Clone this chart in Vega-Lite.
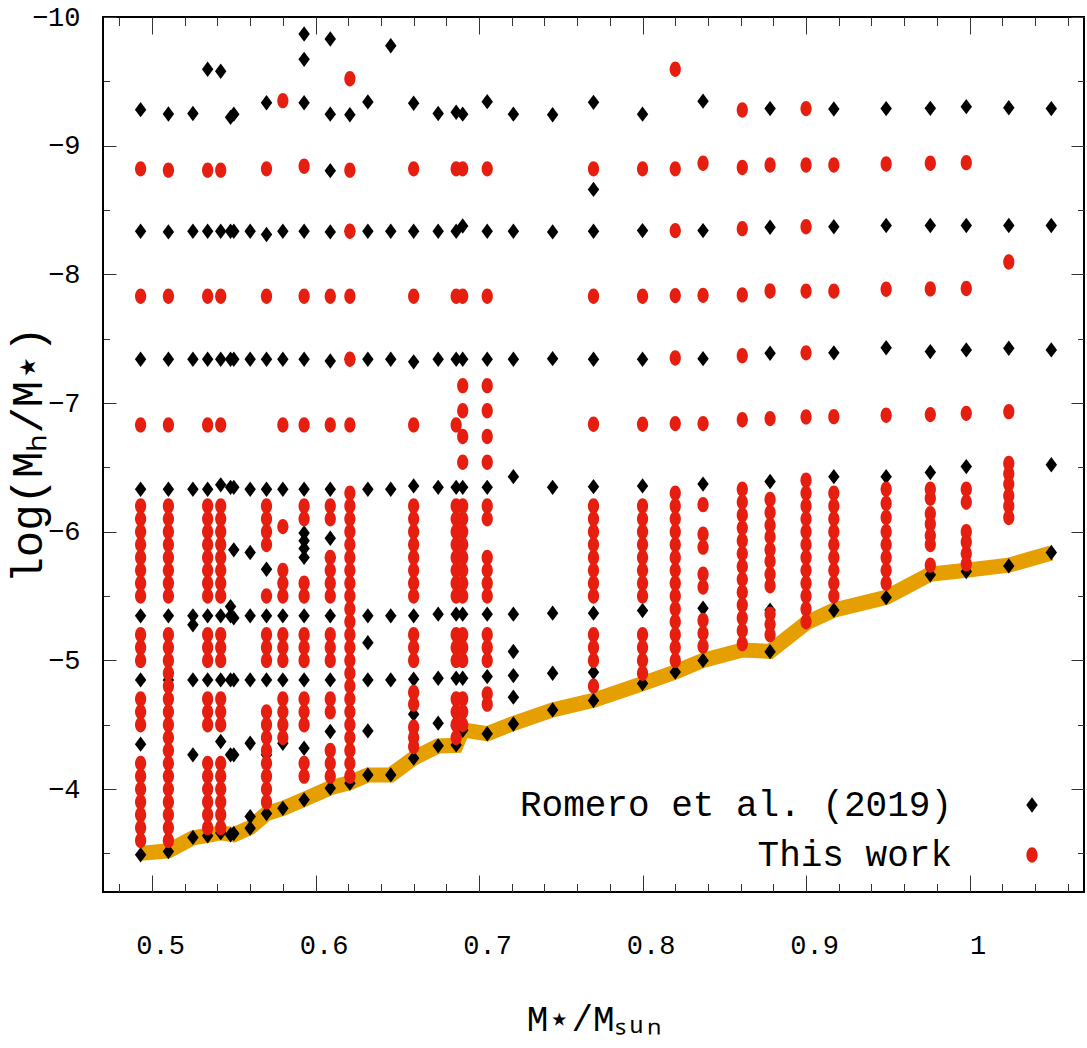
{
  "$schema": "https://vega.github.io/schema/vega-lite/v6.json",
  "width": 981,
  "height": 875,
  "autosize": "none",
  "padding": {"left": 103, "top": 17, "right": 3, "bottom": 156},
  "background": "white",
  "config": {
    "view": {"stroke": "#000000", "strokeWidth": 2},
    "font": "Liberation Mono",
    "axis": {
      "domain": false,
      "grid": false,
      "tickColor": "#333333",
      "tickWidth": 1,
      "labelFont": "Liberation Mono",
      "labelFontSize": 27,
      "labelColor": "#000000",
      "titleFont": "Liberation Mono",
      "titleFontWeight": "normal",
      "titleColor": "#000000"
    }
  },
  "datasets": {
    "edge": [
      {"m": 0.493, "h": -3.50}, {"m": 0.510, "h": -3.52}, {"m": 0.525, "h": -3.62}, {"m": 0.534, "h": -3.64},
      {"m": 0.542, "h": -3.66}, {"m": 0.550, "h": -3.645}, {"m": 0.560, "h": -3.70}, {"m": 0.570, "h": -3.81},
      {"m": 0.580, "h": -3.85}, {"m": 0.593, "h": -3.92}, {"m": 0.609, "h": -4.01}, {"m": 0.621, "h": -4.05},
      {"m": 0.632, "h": -4.11}, {"m": 0.646, "h": -4.11}, {"m": 0.660, "h": -4.24}, {"m": 0.675, "h": -4.335},
      {"m": 0.686, "h": -4.34}, {"m": 0.690, "h": -4.46}, {"m": 0.705, "h": -4.43}, {"m": 0.721, "h": -4.51},
      {"m": 0.745, "h": -4.615}, {"m": 0.770, "h": -4.69}, {"m": 0.800, "h": -4.82}, {"m": 0.820, "h": -4.91},
      {"m": 0.837, "h": -5.00}, {"m": 0.861, "h": -5.08}, {"m": 0.878, "h": -5.07}, {"m": 0.900, "h": -5.29},
      {"m": 0.917, "h": -5.39}, {"m": 0.949, "h": -5.49}, {"m": 0.976, "h": -5.67}, {"m": 0.998, "h": -5.70},
      {"m": 1.024, "h": -5.74}, {"m": 1.050, "h": -5.835}
    ],
    "pts": [
      {"m": 0.493, "h": -9.28, "s": "R"}, {"m": 0.493, "h": -8.335, "s": "R"}, {"m": 0.493, "h": -7.34, "s": "R"}, {"m": 0.493, "h": -6.33, "s": "R"}, {"m": 0.493, "h": -5.346, "s": "R"}, {"m": 0.493, "h": -4.848, "s": "R"}, {"m": 0.493, "h": -4.349, "s": "R"}, {"m": 0.493, "h": -3.489, "s": "R"},
      {"m": 0.510, "h": -9.246, "s": "R"}, {"m": 0.510, "h": -8.33, "s": "R"}, {"m": 0.510, "h": -7.34, "s": "R"}, {"m": 0.510, "h": -6.33, "s": "R"}, {"m": 0.510, "h": -5.346, "s": "R"}, {"m": 0.510, "h": -4.848, "s": "R"}, {"m": 0.510, "h": -3.515, "s": "R"},
      {"m": 0.525, "h": -9.25, "s": "R"}, {"m": 0.525, "h": -8.335, "s": "R"}, {"m": 0.525, "h": -7.34, "s": "R"}, {"m": 0.525, "h": -6.33, "s": "R"}, {"m": 0.525, "h": -5.346, "s": "R"}, {"m": 0.525, "h": -5.276, "s": "R"}, {"m": 0.525, "h": -4.848, "s": "R"}, {"m": 0.525, "h": -4.266, "s": "R"}, {"m": 0.525, "h": -3.624, "s": "R"},
      {"m": 0.534, "h": -9.594, "s": "R"}, {"m": 0.534, "h": -8.335, "s": "R"}, {"m": 0.534, "h": -7.34, "s": "R"}, {"m": 0.534, "h": -6.33, "s": "R"}, {"m": 0.534, "h": -5.346, "s": "R"}, {"m": 0.534, "h": -4.848, "s": "R"}, {"m": 0.534, "h": -3.637, "s": "R"},
      {"m": 0.542, "h": -9.578, "s": "R"}, {"m": 0.542, "h": -8.335, "s": "R"}, {"m": 0.542, "h": -7.34, "s": "R"}, {"m": 0.542, "h": -6.364, "s": "R"}, {"m": 0.542, "h": -5.346, "s": "R"}, {"m": 0.542, "h": -4.848, "s": "R"}, {"m": 0.542, "h": -4.37, "s": "R"}, {"m": 0.542, "h": -3.66, "s": "R"},
      {"m": 0.548, "h": -9.22, "s": "R"}, {"m": 0.548, "h": -8.335, "s": "R"}, {"m": 0.548, "h": -7.34, "s": "R"}, {"m": 0.548, "h": -6.345, "s": "R"}, {"m": 0.548, "h": -5.418, "s": "R"}, {"m": 0.548, "h": -5.346, "s": "R"}, {"m": 0.548, "h": -4.848, "s": "R"}, {"m": 0.548, "h": -4.266, "s": "R"}, {"m": 0.548, "h": -3.645, "s": "R"},
      {"m": 0.550, "h": -9.245, "s": "R"}, {"m": 0.550, "h": -8.335, "s": "R"}, {"m": 0.550, "h": -7.34, "s": "R"}, {"m": 0.550, "h": -6.345, "s": "R"}, {"m": 0.550, "h": -5.859, "s": "R"}, {"m": 0.550, "h": -5.33, "s": "R"}, {"m": 0.550, "h": -4.848, "s": "R"}, {"m": 0.550, "h": -4.266, "s": "R"}, {"m": 0.550, "h": -3.655, "s": "R"},
      {"m": 0.560, "h": -8.335, "s": "R"}, {"m": 0.560, "h": -7.34, "s": "R"}, {"m": 0.560, "h": -6.33, "s": "R"}, {"m": 0.560, "h": -5.838, "s": "R"}, {"m": 0.560, "h": -5.346, "s": "R"}, {"m": 0.560, "h": -4.848, "s": "R"}, {"m": 0.560, "h": -4.356, "s": "R"}, {"m": 0.560, "h": -3.786, "s": "R"}, {"m": 0.560, "h": -3.696, "s": "R"},
      {"m": 0.570, "h": -9.334, "s": "R"}, {"m": 0.570, "h": -8.31, "s": "R"}, {"m": 0.570, "h": -7.34, "s": "R"}, {"m": 0.570, "h": -6.33, "s": "R"}, {"m": 0.570, "h": -5.708, "s": "R"}, {"m": 0.570, "h": -5.346, "s": "R"}, {"m": 0.570, "h": -4.848, "s": "R"}, {"m": 0.570, "h": -4.266, "s": "R"}, {"m": 0.570, "h": -3.81, "s": "R"},
      {"m": 0.580, "h": -8.335, "s": "R"}, {"m": 0.580, "h": -7.34, "s": "R"}, {"m": 0.580, "h": -6.33, "s": "R"}, {"m": 0.580, "h": -5.346, "s": "R"}, {"m": 0.580, "h": -4.848, "s": "R"}, {"m": 0.580, "h": -4.356, "s": "R"}, {"m": 0.580, "h": -3.85, "s": "R"},
      {"m": 0.593, "h": -9.868, "s": "R"}, {"m": 0.593, "h": -9.671, "s": "R"}, {"m": 0.593, "h": -9.334, "s": "R"}, {"m": 0.593, "h": -8.335, "s": "R"}, {"m": 0.593, "h": -7.34, "s": "R"}, {"m": 0.593, "h": -6.33, "s": "R"}, {"m": 0.593, "h": -5.99, "s": "R"}, {"m": 0.593, "h": -5.93, "s": "R"}, {"m": 0.593, "h": -5.87, "s": "R"}, {"m": 0.593, "h": -5.80, "s": "R"}, {"m": 0.593, "h": -5.346, "s": "R"}, {"m": 0.593, "h": -4.848, "s": "R"}, {"m": 0.593, "h": -4.317, "s": "R"}, {"m": 0.593, "h": -3.916, "s": "R"},
      {"m": 0.609, "h": -9.829, "s": "R"}, {"m": 0.609, "h": -9.245, "s": "R"}, {"m": 0.609, "h": -8.806, "s": "R"}, {"m": 0.609, "h": -8.33, "s": "R"}, {"m": 0.609, "h": -7.327, "s": "R"}, {"m": 0.609, "h": -6.33, "s": "R"}, {"m": 0.609, "h": -5.949, "s": "R"}, {"m": 0.609, "h": -5.80, "s": "R"}, {"m": 0.609, "h": -5.346, "s": "R"}, {"m": 0.609, "h": -4.848, "s": "R"}, {"m": 0.609, "h": -4.447, "s": "R"}, {"m": 0.609, "h": -4.007, "s": "R"},
      {"m": 0.621, "h": -9.24, "s": "R"}, {"m": 0.621, "h": -8.335, "s": "R"}, {"m": 0.621, "h": -7.34, "s": "R"}, {"m": 0.621, "h": -4.046, "s": "R"},
      {"m": 0.632, "h": -9.34, "s": "R"}, {"m": 0.632, "h": -8.335, "s": "R"}, {"m": 0.632, "h": -7.34, "s": "R"}, {"m": 0.632, "h": -6.33, "s": "R"}, {"m": 0.632, "h": -5.346, "s": "R"}, {"m": 0.632, "h": -5.138, "s": "R"}, {"m": 0.632, "h": -4.848, "s": "R"}, {"m": 0.632, "h": -4.452, "s": "R"}, {"m": 0.632, "h": -4.11, "s": "R"},
      {"m": 0.646, "h": -9.777, "s": "R"}, {"m": 0.646, "h": -8.335, "s": "R"}, {"m": 0.646, "h": -7.34, "s": "R"}, {"m": 0.646, "h": -6.33, "s": "R"}, {"m": 0.646, "h": -5.346, "s": "R"}, {"m": 0.646, "h": -4.848, "s": "R"}, {"m": 0.646, "h": -4.11, "s": "R"},
      {"m": 0.660, "h": -9.33, "s": "R"}, {"m": 0.660, "h": -8.335, "s": "R"}, {"m": 0.660, "h": -7.32, "s": "R"}, {"m": 0.660, "h": -6.356, "s": "R"}, {"m": 0.660, "h": -5.346, "s": "R"}, {"m": 0.660, "h": -4.853, "s": "R"}, {"m": 0.660, "h": -4.582, "s": "R"}, {"m": 0.660, "h": -4.24, "s": "R"},
      {"m": 0.675, "h": -9.25, "s": "R"}, {"m": 0.675, "h": -8.335, "s": "R"}, {"m": 0.675, "h": -7.34, "s": "R"}, {"m": 0.675, "h": -6.345, "s": "R"}, {"m": 0.675, "h": -5.359, "s": "R"}, {"m": 0.675, "h": -4.861, "s": "R"}, {"m": 0.675, "h": -4.512, "s": "R"}, {"m": 0.675, "h": -4.336, "s": "R"},
      {"m": 0.686, "h": -9.26, "s": "R"}, {"m": 0.686, "h": -8.335, "s": "R"}, {"m": 0.686, "h": -7.34, "s": "R"}, {"m": 0.686, "h": -6.345, "s": "R"}, {"m": 0.686, "h": -5.359, "s": "R"}, {"m": 0.686, "h": -4.861, "s": "R"}, {"m": 0.686, "h": -4.49, "s": "R"}, {"m": 0.686, "h": -4.343, "s": "R"},
      {"m": 0.690, "h": -9.245, "s": "R"}, {"m": 0.690, "h": -8.376, "s": "R"}, {"m": 0.690, "h": -7.34, "s": "R"}, {"m": 0.690, "h": -6.345, "s": "R"}, {"m": 0.690, "h": -5.359, "s": "R"}, {"m": 0.690, "h": -4.861, "s": "R"}, {"m": 0.690, "h": -4.457, "s": "R"},
      {"m": 0.705, "h": -9.342, "s": "R"}, {"m": 0.705, "h": -8.335, "s": "R"}, {"m": 0.705, "h": -7.34, "s": "R"}, {"m": 0.705, "h": -6.345, "s": "R"}, {"m": 0.705, "h": -5.359, "s": "R"}, {"m": 0.705, "h": -4.874, "s": "R"}, {"m": 0.705, "h": -4.43, "s": "R"},
      {"m": 0.721, "h": -9.245, "s": "R"}, {"m": 0.721, "h": -8.335, "s": "R"}, {"m": 0.721, "h": -7.34, "s": "R"}, {"m": 0.721, "h": -6.428, "s": "R"}, {"m": 0.721, "h": -5.359, "s": "R"}, {"m": 0.721, "h": -5.069, "s": "R"}, {"m": 0.721, "h": -4.882, "s": "R"}, {"m": 0.721, "h": -4.714, "s": "R"}, {"m": 0.721, "h": -4.506, "s": "R"},
      {"m": 0.745, "h": -9.24, "s": "R"}, {"m": 0.745, "h": -8.33, "s": "R"}, {"m": 0.745, "h": -7.345, "s": "R"}, {"m": 0.745, "h": -6.345, "s": "R"}, {"m": 0.745, "h": -5.367, "s": "R"}, {"m": 0.745, "h": -4.90, "s": "R"}, {"m": 0.745, "h": -4.615, "s": "R"},
      {"m": 0.770, "h": -9.337, "s": "R"}, {"m": 0.770, "h": -8.66, "s": "R"}, {"m": 0.770, "h": -8.335, "s": "R"}, {"m": 0.770, "h": -7.34, "s": "R"}, {"m": 0.770, "h": -6.35, "s": "R"}, {"m": 0.770, "h": -5.367, "s": "R"}, {"m": 0.770, "h": -4.908, "s": "R"}, {"m": 0.770, "h": -4.688, "s": "R"},
      {"m": 0.800, "h": -9.245, "s": "R"}, {"m": 0.800, "h": -8.34, "s": "R"}, {"m": 0.800, "h": -7.34, "s": "R"}, {"m": 0.800, "h": -6.356, "s": "R"}, {"m": 0.800, "h": -5.387, "s": "R"}, {"m": 0.800, "h": -4.82, "s": "R"},
      {"m": 0.820, "h": -4.91, "s": "R"},
      {"m": 0.837, "h": -9.346, "s": "R"}, {"m": 0.837, "h": -8.34, "s": "R"}, {"m": 0.837, "h": -7.345, "s": "R"}, {"m": 0.837, "h": -6.37, "s": "R"}, {"m": 0.837, "h": -5.405, "s": "R"}, {"m": 0.837, "h": -5.0, "s": "R"},
      {"m": 0.878, "h": -9.288, "s": "R"}, {"m": 0.878, "h": -8.366, "s": "R"}, {"m": 0.878, "h": -7.387, "s": "R"}, {"m": 0.878, "h": -6.39, "s": "R"}, {"m": 0.878, "h": -5.39, "s": "R"}, {"m": 0.878, "h": -5.068, "s": "R"},
      {"m": 0.917, "h": -9.285, "s": "R"}, {"m": 0.917, "h": -8.37, "s": "R"}, {"m": 0.917, "h": -7.39, "s": "R"}, {"m": 0.917, "h": -6.428, "s": "R"}, {"m": 0.917, "h": -5.39, "s": "R"},
      {"m": 0.949, "h": -9.288, "s": "R"}, {"m": 0.949, "h": -8.38, "s": "R"}, {"m": 0.949, "h": -7.43, "s": "R"}, {"m": 0.949, "h": -6.428, "s": "R"}, {"m": 0.949, "h": -5.488, "s": "R"},
      {"m": 0.976, "h": -9.29, "s": "R"}, {"m": 0.976, "h": -8.38, "s": "R"}, {"m": 0.976, "h": -7.40, "s": "R"}, {"m": 0.976, "h": -6.46, "s": "R"}, {"m": 0.976, "h": -5.665, "s": "R"},
      {"m": 0.998, "h": -9.303, "s": "R"}, {"m": 0.998, "h": -8.38, "s": "R"}, {"m": 0.998, "h": -7.413, "s": "R"}, {"m": 0.998, "h": -6.506, "s": "R"}, {"m": 0.998, "h": -5.69, "s": "R"},
      {"m": 1.024, "h": -9.295, "s": "R"}, {"m": 1.024, "h": -8.38, "s": "R"}, {"m": 1.024, "h": -7.426, "s": "R"}, {"m": 1.024, "h": -5.734, "s": "R"},
      {"m": 1.050, "h": -9.288, "s": "R"}, {"m": 1.050, "h": -8.38, "s": "R"}, {"m": 1.050, "h": -7.413, "s": "R"}, {"m": 1.050, "h": -6.52, "s": "R"}, {"m": 1.050, "h": -5.838, "s": "R"},

      {"m": 0.493, "h": -8.82, "s": "T"}, {"m": 0.493, "h": -7.83, "s": "T"}, {"m": 0.493, "h": -6.83, "s": "T"}, {"m": 0.493, "h": -6.2, "s": "T"}, {"m": 0.493, "h": -6.1, "s": "T"}, {"m": 0.493, "h": -6.0, "s": "T"}, {"m": 0.493, "h": -5.9, "s": "T"}, {"m": 0.493, "h": -5.8, "s": "T"}, {"m": 0.493, "h": -5.7, "s": "T"}, {"m": 0.493, "h": -5.6, "s": "T"}, {"m": 0.493, "h": -5.5, "s": "T"}, {"m": 0.493, "h": -5.2, "s": "T"}, {"m": 0.493, "h": -5.1, "s": "T"}, {"m": 0.493, "h": -5.0, "s": "T"}, {"m": 0.493, "h": -4.7, "s": "T"}, {"m": 0.493, "h": -4.6, "s": "T"}, {"m": 0.493, "h": -4.5, "s": "T"}, {"m": 0.493, "h": -4.2, "s": "T"}, {"m": 0.493, "h": -4.1, "s": "T"}, {"m": 0.493, "h": -4.0, "s": "T"}, {"m": 0.493, "h": -3.9, "s": "T"}, {"m": 0.493, "h": -3.8, "s": "T"}, {"m": 0.493, "h": -3.7, "s": "T"}, {"m": 0.493, "h": -3.6, "s": "T"},
      {"m": 0.510, "h": -8.81, "s": "T"}, {"m": 0.510, "h": -7.83, "s": "T"}, {"m": 0.510, "h": -6.83, "s": "T"}, {"m": 0.510, "h": -6.2, "s": "T"}, {"m": 0.510, "h": -6.1, "s": "T"}, {"m": 0.510, "h": -6.0, "s": "T"}, {"m": 0.510, "h": -5.9, "s": "T"}, {"m": 0.510, "h": -5.8, "s": "T"}, {"m": 0.510, "h": -5.7, "s": "T"}, {"m": 0.510, "h": -5.6, "s": "T"}, {"m": 0.510, "h": -5.5, "s": "T"}, {"m": 0.510, "h": -5.2, "s": "T"}, {"m": 0.510, "h": -5.1, "s": "T"}, {"m": 0.510, "h": -5.0, "s": "T"}, {"m": 0.510, "h": -4.9, "s": "T"}, {"m": 0.510, "h": -4.8, "s": "T"}, {"m": 0.510, "h": -4.7, "s": "T"}, {"m": 0.510, "h": -4.6, "s": "T"}, {"m": 0.510, "h": -4.5, "s": "T"}, {"m": 0.510, "h": -4.4, "s": "T"}, {"m": 0.510, "h": -4.3, "s": "T"}, {"m": 0.510, "h": -4.2, "s": "T"}, {"m": 0.510, "h": -4.1, "s": "T"}, {"m": 0.510, "h": -4.0, "s": "T"}, {"m": 0.510, "h": -3.9, "s": "T"}, {"m": 0.510, "h": -3.8, "s": "T"}, {"m": 0.510, "h": -3.7, "s": "T"}, {"m": 0.510, "h": -3.6, "s": "T"},
      {"m": 0.534, "h": -8.81, "s": "T"}, {"m": 0.534, "h": -7.83, "s": "T"}, {"m": 0.534, "h": -6.83, "s": "T"}, {"m": 0.534, "h": -6.2, "s": "T"}, {"m": 0.534, "h": -6.1, "s": "T"}, {"m": 0.534, "h": -6.0, "s": "T"}, {"m": 0.534, "h": -5.9, "s": "T"}, {"m": 0.534, "h": -5.8, "s": "T"}, {"m": 0.534, "h": -5.7, "s": "T"}, {"m": 0.534, "h": -5.6, "s": "T"}, {"m": 0.534, "h": -5.5, "s": "T"}, {"m": 0.534, "h": -5.2, "s": "T"}, {"m": 0.534, "h": -5.1, "s": "T"}, {"m": 0.534, "h": -5.0, "s": "T"}, {"m": 0.534, "h": -4.7, "s": "T"}, {"m": 0.534, "h": -4.6, "s": "T"}, {"m": 0.534, "h": -4.5, "s": "T"}, {"m": 0.534, "h": -4.2, "s": "T"}, {"m": 0.534, "h": -4.1, "s": "T"}, {"m": 0.534, "h": -4.0, "s": "T"}, {"m": 0.534, "h": -3.9, "s": "T"}, {"m": 0.534, "h": -3.8, "s": "T"}, {"m": 0.534, "h": -3.7, "s": "T"},
      {"m": 0.542, "h": -8.81, "s": "T"}, {"m": 0.542, "h": -7.83, "s": "T"}, {"m": 0.542, "h": -6.83, "s": "T"}, {"m": 0.542, "h": -6.2, "s": "T"}, {"m": 0.542, "h": -6.1, "s": "T"}, {"m": 0.542, "h": -6.0, "s": "T"}, {"m": 0.542, "h": -5.9, "s": "T"}, {"m": 0.542, "h": -5.8, "s": "T"}, {"m": 0.542, "h": -5.7, "s": "T"}, {"m": 0.542, "h": -5.6, "s": "T"}, {"m": 0.542, "h": -5.5, "s": "T"}, {"m": 0.542, "h": -5.2, "s": "T"}, {"m": 0.542, "h": -5.1, "s": "T"}, {"m": 0.542, "h": -5.0, "s": "T"}, {"m": 0.542, "h": -4.7, "s": "T"}, {"m": 0.542, "h": -4.6, "s": "T"}, {"m": 0.542, "h": -4.5, "s": "T"}, {"m": 0.542, "h": -4.2, "s": "T"}, {"m": 0.542, "h": -4.1, "s": "T"}, {"m": 0.542, "h": -4.0, "s": "T"}, {"m": 0.542, "h": -3.9, "s": "T"}, {"m": 0.542, "h": -3.8, "s": "T"}, {"m": 0.542, "h": -3.7, "s": "T"},
      {"m": 0.570, "h": -8.82, "s": "T"}, {"m": 0.570, "h": -7.83, "s": "T"}, {"m": 0.570, "h": -6.2, "s": "T"}, {"m": 0.570, "h": -6.1, "s": "T"}, {"m": 0.570, "h": -6.0, "s": "T"}, {"m": 0.570, "h": -5.9, "s": "T"}, {"m": 0.570, "h": -5.5, "s": "T"}, {"m": 0.570, "h": -5.2, "s": "T"}, {"m": 0.570, "h": -5.1, "s": "T"}, {"m": 0.570, "h": -5.0, "s": "T"}, {"m": 0.570, "h": -4.6, "s": "T"}, {"m": 0.570, "h": -4.5, "s": "T"}, {"m": 0.570, "h": -4.4, "s": "T"}, {"m": 0.570, "h": -4.3, "s": "T"}, {"m": 0.570, "h": -4.2, "s": "T"}, {"m": 0.570, "h": -4.1, "s": "T"}, {"m": 0.570, "h": -4.0, "s": "T"}, {"m": 0.570, "h": -3.9, "s": "T"},
      {"m": 0.580, "h": -9.35, "s": "T"}, {"m": 0.580, "h": -6.83, "s": "T"}, {"m": 0.580, "h": -6.04, "s": "T"}, {"m": 0.580, "h": -5.7, "s": "T"}, {"m": 0.580, "h": -5.6, "s": "T"}, {"m": 0.580, "h": -5.5, "s": "T"}, {"m": 0.580, "h": -5.2, "s": "T"}, {"m": 0.580, "h": -5.1, "s": "T"}, {"m": 0.580, "h": -5.0, "s": "T"}, {"m": 0.580, "h": -4.7, "s": "T"}, {"m": 0.580, "h": -4.6, "s": "T"}, {"m": 0.580, "h": -4.5, "s": "T"}, {"m": 0.580, "h": -4.4, "s": "T"},
      {"m": 0.593, "h": -8.84, "s": "T"}, {"m": 0.593, "h": -7.83, "s": "T"}, {"m": 0.593, "h": -6.83, "s": "T"}, {"m": 0.593, "h": -6.2, "s": "T"}, {"m": 0.593, "h": -6.1, "s": "T"}, {"m": 0.593, "h": -5.6, "s": "T"}, {"m": 0.593, "h": -5.5, "s": "T"}, {"m": 0.593, "h": -5.2, "s": "T"}, {"m": 0.593, "h": -5.1, "s": "T"}, {"m": 0.593, "h": -5.0, "s": "T"}, {"m": 0.593, "h": -4.7, "s": "T"}, {"m": 0.593, "h": -4.6, "s": "T"}, {"m": 0.593, "h": -4.5, "s": "T"}, {"m": 0.593, "h": -4.2, "s": "T"}, {"m": 0.593, "h": -4.1, "s": "T"},
      {"m": 0.609, "h": -7.83, "s": "T"}, {"m": 0.609, "h": -6.83, "s": "T"}, {"m": 0.609, "h": -6.2, "s": "T"}, {"m": 0.609, "h": -6.1, "s": "T"}, {"m": 0.609, "h": -5.8, "s": "T"}, {"m": 0.609, "h": -5.7, "s": "T"}, {"m": 0.609, "h": -5.6, "s": "T"}, {"m": 0.609, "h": -5.5, "s": "T"}, {"m": 0.609, "h": -5.2, "s": "T"}, {"m": 0.609, "h": -5.1, "s": "T"}, {"m": 0.609, "h": -5.0, "s": "T"}, {"m": 0.609, "h": -4.7, "s": "T"}, {"m": 0.609, "h": -4.6, "s": "T"}, {"m": 0.609, "h": -4.3, "s": "T"}, {"m": 0.609, "h": -4.2, "s": "T"}, {"m": 0.609, "h": -4.1, "s": "T"},
      {"m": 0.621, "h": -9.52, "s": "T"}, {"m": 0.621, "h": -8.81, "s": "T"}, {"m": 0.621, "h": -8.335, "s": "T"}, {"m": 0.621, "h": -7.83, "s": "T"}, {"m": 0.621, "h": -7.34, "s": "T"}, {"m": 0.621, "h": -6.83, "s": "T"}, {"m": 0.621, "h": -6.3, "s": "T"}, {"m": 0.621, "h": -6.2, "s": "T"}, {"m": 0.621, "h": -6.1, "s": "T"}, {"m": 0.621, "h": -6.0, "s": "T"}, {"m": 0.621, "h": -5.9, "s": "T"}, {"m": 0.621, "h": -5.8, "s": "T"}, {"m": 0.621, "h": -5.7, "s": "T"}, {"m": 0.621, "h": -5.6, "s": "T"}, {"m": 0.621, "h": -5.5, "s": "T"}, {"m": 0.621, "h": -5.4, "s": "T"}, {"m": 0.621, "h": -5.3, "s": "T"}, {"m": 0.621, "h": -5.2, "s": "T"}, {"m": 0.621, "h": -5.1, "s": "T"}, {"m": 0.621, "h": -5.0, "s": "T"}, {"m": 0.621, "h": -4.9, "s": "T"}, {"m": 0.621, "h": -4.8, "s": "T"}, {"m": 0.621, "h": -4.7, "s": "T"}, {"m": 0.621, "h": -4.6, "s": "T"}, {"m": 0.621, "h": -4.5, "s": "T"}, {"m": 0.621, "h": -4.4, "s": "T"}, {"m": 0.621, "h": -4.3, "s": "T"}, {"m": 0.621, "h": -4.2, "s": "T"}, {"m": 0.621, "h": -4.1, "s": "T"},
      {"m": 0.660, "h": -8.82, "s": "T"}, {"m": 0.660, "h": -7.83, "s": "T"}, {"m": 0.660, "h": -6.83, "s": "T"}, {"m": 0.660, "h": -6.2, "s": "T"}, {"m": 0.660, "h": -6.1, "s": "T"}, {"m": 0.660, "h": -6.0, "s": "T"}, {"m": 0.660, "h": -5.9, "s": "T"}, {"m": 0.660, "h": -5.8, "s": "T"}, {"m": 0.660, "h": -5.7, "s": "T"}, {"m": 0.660, "h": -5.6, "s": "T"}, {"m": 0.660, "h": -5.5, "s": "T"}, {"m": 0.660, "h": -5.2, "s": "T"}, {"m": 0.660, "h": -5.1, "s": "T"}, {"m": 0.660, "h": -5.0, "s": "T"}, {"m": 0.660, "h": -4.75, "s": "T"}, {"m": 0.660, "h": -4.66, "s": "T"}, {"m": 0.660, "h": -4.48, "s": "T"}, {"m": 0.660, "h": -4.4, "s": "T"}, {"m": 0.660, "h": -4.33, "s": "T"},
      {"m": 0.686, "h": -8.82, "s": "T"}, {"m": 0.686, "h": -7.83, "s": "T"}, {"m": 0.686, "h": -6.83, "s": "T"}, {"m": 0.686, "h": -6.2, "s": "T"}, {"m": 0.686, "h": -6.1, "s": "T"}, {"m": 0.686, "h": -6.0, "s": "T"}, {"m": 0.686, "h": -5.9, "s": "T"}, {"m": 0.686, "h": -5.8, "s": "T"}, {"m": 0.686, "h": -5.7, "s": "T"}, {"m": 0.686, "h": -5.6, "s": "T"}, {"m": 0.686, "h": -5.5, "s": "T"}, {"m": 0.686, "h": -5.2, "s": "T"}, {"m": 0.686, "h": -5.1, "s": "T"}, {"m": 0.686, "h": -5.0, "s": "T"}, {"m": 0.686, "h": -4.7, "s": "T"}, {"m": 0.686, "h": -4.6, "s": "T"}, {"m": 0.686, "h": -4.5, "s": "T"}, {"m": 0.686, "h": -4.4, "s": "T"},
      {"m": 0.690, "h": -8.82, "s": "T"}, {"m": 0.690, "h": -7.83, "s": "T"}, {"m": 0.690, "h": -7.135, "s": "T"}, {"m": 0.690, "h": -6.94, "s": "T"}, {"m": 0.690, "h": -6.74, "s": "T"}, {"m": 0.690, "h": -6.54, "s": "T"}, {"m": 0.690, "h": -6.2, "s": "T"}, {"m": 0.690, "h": -6.1, "s": "T"}, {"m": 0.690, "h": -6.0, "s": "T"}, {"m": 0.690, "h": -5.9, "s": "T"}, {"m": 0.690, "h": -5.8, "s": "T"}, {"m": 0.690, "h": -5.7, "s": "T"}, {"m": 0.690, "h": -5.6, "s": "T"}, {"m": 0.690, "h": -5.5, "s": "T"}, {"m": 0.690, "h": -5.2, "s": "T"}, {"m": 0.690, "h": -5.1, "s": "T"}, {"m": 0.690, "h": -5.0, "s": "T"}, {"m": 0.690, "h": -4.7, "s": "T"}, {"m": 0.690, "h": -4.6, "s": "T"}, {"m": 0.690, "h": -4.5, "s": "T"},
      {"m": 0.705, "h": -8.82, "s": "T"}, {"m": 0.705, "h": -7.83, "s": "T"}, {"m": 0.705, "h": -7.135, "s": "T"}, {"m": 0.705, "h": -6.94, "s": "T"}, {"m": 0.705, "h": -6.74, "s": "T"}, {"m": 0.705, "h": -6.54, "s": "T"}, {"m": 0.705, "h": -6.2, "s": "T"}, {"m": 0.705, "h": -6.1, "s": "T"}, {"m": 0.705, "h": -5.8, "s": "T"}, {"m": 0.705, "h": -5.7, "s": "T"}, {"m": 0.705, "h": -5.6, "s": "T"}, {"m": 0.705, "h": -5.5, "s": "T"}, {"m": 0.705, "h": -5.2, "s": "T"}, {"m": 0.705, "h": -5.1, "s": "T"}, {"m": 0.705, "h": -5.0, "s": "T"}, {"m": 0.705, "h": -4.74, "s": "T"}, {"m": 0.705, "h": -4.66, "s": "T"},
      {"m": 0.770, "h": -8.82, "s": "T"}, {"m": 0.770, "h": -7.83, "s": "T"}, {"m": 0.770, "h": -6.835, "s": "T"}, {"m": 0.770, "h": -6.2, "s": "T"}, {"m": 0.770, "h": -6.1, "s": "T"}, {"m": 0.770, "h": -6.0, "s": "T"}, {"m": 0.770, "h": -5.9, "s": "T"}, {"m": 0.770, "h": -5.8, "s": "T"}, {"m": 0.770, "h": -5.7, "s": "T"}, {"m": 0.770, "h": -5.6, "s": "T"}, {"m": 0.770, "h": -5.5, "s": "T"}, {"m": 0.770, "h": -5.2, "s": "T"}, {"m": 0.770, "h": -5.1, "s": "T"}, {"m": 0.770, "h": -5.0, "s": "T"}, {"m": 0.770, "h": -4.8, "s": "T"},
      {"m": 0.800, "h": -8.82, "s": "T"}, {"m": 0.800, "h": -7.83, "s": "T"}, {"m": 0.800, "h": -6.835, "s": "T"}, {"m": 0.800, "h": -6.2, "s": "T"}, {"m": 0.800, "h": -6.1, "s": "T"}, {"m": 0.800, "h": -6.0, "s": "T"}, {"m": 0.800, "h": -5.9, "s": "T"}, {"m": 0.800, "h": -5.8, "s": "T"}, {"m": 0.800, "h": -5.7, "s": "T"}, {"m": 0.800, "h": -5.6, "s": "T"}, {"m": 0.800, "h": -5.5, "s": "T"}, {"m": 0.800, "h": -5.2, "s": "T"}, {"m": 0.800, "h": -5.1, "s": "T"}, {"m": 0.800, "h": -5.0, "s": "T"}, {"m": 0.800, "h": -4.9, "s": "T"},
      {"m": 0.820, "h": -9.594, "s": "T"}, {"m": 0.820, "h": -8.82, "s": "T"}, {"m": 0.820, "h": -8.34, "s": "T"}, {"m": 0.820, "h": -7.835, "s": "T"}, {"m": 0.820, "h": -7.35, "s": "T"}, {"m": 0.820, "h": -6.84, "s": "T"}, {"m": 0.820, "h": -6.3, "s": "T"}, {"m": 0.820, "h": -6.2, "s": "T"}, {"m": 0.820, "h": -6.1, "s": "T"}, {"m": 0.820, "h": -6.0, "s": "T"}, {"m": 0.820, "h": -5.9, "s": "T"}, {"m": 0.820, "h": -5.8, "s": "T"}, {"m": 0.820, "h": -5.7, "s": "T"}, {"m": 0.820, "h": -5.6, "s": "T"}, {"m": 0.820, "h": -5.5, "s": "T"}, {"m": 0.820, "h": -5.4, "s": "T"}, {"m": 0.820, "h": -5.3, "s": "T"}, {"m": 0.820, "h": -5.2, "s": "T"}, {"m": 0.820, "h": -5.1, "s": "T"}, {"m": 0.820, "h": -5.0, "s": "T"},
      {"m": 0.837, "h": -8.863, "s": "T"}, {"m": 0.837, "h": -7.837, "s": "T"}, {"m": 0.837, "h": -6.84, "s": "T"}, {"m": 0.837, "h": -6.21, "s": "T"}, {"m": 0.837, "h": -5.98, "s": "T"}, {"m": 0.837, "h": -5.88, "s": "T"}, {"m": 0.837, "h": -5.67, "s": "T"}, {"m": 0.837, "h": -5.57, "s": "T"}, {"m": 0.837, "h": -5.31, "s": "T"}, {"m": 0.837, "h": -5.21, "s": "T"}, {"m": 0.837, "h": -5.11, "s": "T"},
      {"m": 0.861, "h": -9.277, "s": "T"}, {"m": 0.861, "h": -8.83, "s": "T"}, {"m": 0.861, "h": -8.355, "s": "T"}, {"m": 0.861, "h": -7.84, "s": "T"}, {"m": 0.861, "h": -7.368, "s": "T"}, {"m": 0.861, "h": -6.87, "s": "T"}, {"m": 0.861, "h": -6.33, "s": "T"}, {"m": 0.861, "h": -6.23, "s": "T"}, {"m": 0.861, "h": -6.13, "s": "T"}, {"m": 0.861, "h": -6.03, "s": "T"}, {"m": 0.861, "h": -5.93, "s": "T"}, {"m": 0.861, "h": -5.83, "s": "T"}, {"m": 0.861, "h": -5.73, "s": "T"}, {"m": 0.861, "h": -5.63, "s": "T"}, {"m": 0.861, "h": -5.53, "s": "T"}, {"m": 0.861, "h": -5.43, "s": "T"}, {"m": 0.861, "h": -5.33, "s": "T"}, {"m": 0.861, "h": -5.23, "s": "T"}, {"m": 0.861, "h": -5.13, "s": "T"},
      {"m": 0.878, "h": -8.85, "s": "T"}, {"m": 0.878, "h": -7.871, "s": "T"}, {"m": 0.878, "h": -6.879, "s": "T"}, {"m": 0.878, "h": -6.25, "s": "T"}, {"m": 0.878, "h": -6.15, "s": "T"}, {"m": 0.878, "h": -6.05, "s": "T"}, {"m": 0.878, "h": -5.96, "s": "T"}, {"m": 0.878, "h": -5.86, "s": "T"}, {"m": 0.878, "h": -5.77, "s": "T"}, {"m": 0.878, "h": -5.67, "s": "T"}, {"m": 0.878, "h": -5.58, "s": "T"}, {"m": 0.878, "h": -5.36, "s": "T"}, {"m": 0.878, "h": -5.28, "s": "T"}, {"m": 0.878, "h": -5.2, "s": "T"},
      {"m": 0.900, "h": -9.288, "s": "T"}, {"m": 0.900, "h": -8.85, "s": "T"}, {"m": 0.900, "h": -8.37, "s": "T"}, {"m": 0.900, "h": -7.87, "s": "T"}, {"m": 0.900, "h": -7.39, "s": "T"}, {"m": 0.900, "h": -6.892, "s": "T"}, {"m": 0.900, "h": -6.4, "s": "T"}, {"m": 0.900, "h": -6.3, "s": "T"}, {"m": 0.900, "h": -6.2, "s": "T"}, {"m": 0.900, "h": -6.1, "s": "T"}, {"m": 0.900, "h": -6.0, "s": "T"}, {"m": 0.900, "h": -5.9, "s": "T"}, {"m": 0.900, "h": -5.8, "s": "T"}, {"m": 0.900, "h": -5.7, "s": "T"}, {"m": 0.900, "h": -5.6, "s": "T"}, {"m": 0.900, "h": -5.5, "s": "T"}, {"m": 0.900, "h": -5.4, "s": "T"}, {"m": 0.900, "h": -5.3, "s": "T"},
      {"m": 0.917, "h": -8.85, "s": "T"}, {"m": 0.917, "h": -7.87, "s": "T"}, {"m": 0.917, "h": -6.894, "s": "T"}, {"m": 0.917, "h": -6.3, "s": "T"}, {"m": 0.917, "h": -6.2, "s": "T"}, {"m": 0.917, "h": -6.1, "s": "T"}, {"m": 0.917, "h": -6.0, "s": "T"}, {"m": 0.917, "h": -5.9, "s": "T"}, {"m": 0.917, "h": -5.8, "s": "T"}, {"m": 0.917, "h": -5.7, "s": "T"}, {"m": 0.917, "h": -5.6, "s": "T"}, {"m": 0.917, "h": -5.5, "s": "T"},
      {"m": 0.949, "h": -8.858, "s": "T"}, {"m": 0.949, "h": -7.884, "s": "T"}, {"m": 0.949, "h": -6.905, "s": "T"}, {"m": 0.949, "h": -6.33, "s": "T"}, {"m": 0.949, "h": -6.22, "s": "T"}, {"m": 0.949, "h": -6.11, "s": "T"}, {"m": 0.949, "h": -6.0, "s": "T"}, {"m": 0.949, "h": -5.9, "s": "T"}, {"m": 0.949, "h": -5.8, "s": "T"}, {"m": 0.949, "h": -5.7, "s": "T"}, {"m": 0.949, "h": -5.6, "s": "T"},
      {"m": 0.976, "h": -8.863, "s": "T"}, {"m": 0.976, "h": -7.887, "s": "T"}, {"m": 0.976, "h": -6.91, "s": "T"}, {"m": 0.976, "h": -6.33, "s": "T"}, {"m": 0.976, "h": -6.26, "s": "T"}, {"m": 0.976, "h": -6.14, "s": "T"}, {"m": 0.976, "h": -6.06, "s": "T"}, {"m": 0.976, "h": -5.97, "s": "T"}, {"m": 0.976, "h": -5.9, "s": "T"}, {"m": 0.976, "h": -5.74, "s": "T"},
      {"m": 0.998, "h": -8.868, "s": "T"}, {"m": 0.998, "h": -7.89, "s": "T"}, {"m": 0.998, "h": -6.92, "s": "T"}, {"m": 0.998, "h": -6.33, "s": "T"}, {"m": 0.998, "h": -6.23, "s": "T"}, {"m": 0.998, "h": -6.0, "s": "T"}, {"m": 0.998, "h": -5.92, "s": "T"}, {"m": 0.998, "h": -5.83, "s": "T"}, {"m": 0.998, "h": -5.75, "s": "T"},
      {"m": 1.024, "h": -8.096, "s": "T"}, {"m": 1.024, "h": -6.933, "s": "T"}, {"m": 1.024, "h": -6.53, "s": "T"}, {"m": 1.024, "h": -6.45, "s": "T"}, {"m": 1.024, "h": -6.37, "s": "T"}, {"m": 1.024, "h": -6.28, "s": "T"}, {"m": 1.024, "h": -6.2, "s": "T"}, {"m": 1.024, "h": -6.11, "s": "T"}
    ]
  },
  "layer": [
    {
      "data": {"name": "edge"},
      "mark": {"type": "line", "color": "#E69F00", "strokeWidth": 15},
      "encoding": {
        "x": {
          "field": "m", "type": "quantitative",
          "scale": {"domain": [0.47, 1.07], "nice": false, "zero": false},
          "axis": {
            "orient": "bottom",
            "title": "M⋆/Mₛᵤₙ",
            "titleFontSize": 36,
            "titlePadding": 36,
            "values": [0.48, 0.5, 0.52, 0.54, 0.56, 0.58, 0.6, 0.62, 0.64, 0.66, 0.68, 0.7, 0.72, 0.74, 0.76, 0.78, 0.8, 0.82, 0.84, 0.86, 0.88, 0.9, 0.92, 0.94, 0.96, 0.98, 1.0, 1.02, 1.04, 1.06],
            "labelExpr": "abs(datum.value*10 - round(datum.value*10)) < 0.001 ? format(datum.value, '~g') : ''",
            "labelOffset": 8,
            "labelPadding": 57,
            "labelFlush": false,
            "labelOverlap": false,
            "tickSize": {"condition": {"test": "abs(datum.value*10 - round(datum.value*10)) < 0.001", "value": -17}, "value": -8.5}
          }
        },
        "y": {
          "field": "h", "type": "quantitative",
          "scale": {"domain": [-10, -3.2], "nice": false, "zero": false, "reverse": true},
          "axis": {
            "orient": "left",
            "title": "log(Mₕ/M⋆)",
            "titleFontSize": 44,
            "titlePadding": -19,
            "values": [-10, -9.5, -9, -8.5, -8, -7.5, -7, -6.5, -6, -5.5, -5, -4.5, -4, -3.5],
            "labelExpr": "abs(datum.value - round(datum.value)) < 0.001 ? format(datum.value, 'd') : ''",
            "labelPadding": 36,
            "labelFlush": false,
            "labelOverlap": false,
            "tickSize": {"condition": {"test": "abs(datum.value - round(datum.value)) < 0.001", "value": -13}, "value": -6.5}
          }
        }
      }
    },
    {
      "data": {"name": "pts"},
      "mark": {"type": "point", "filled": true, "opacity": 1, "size": 236, "strokeWidth": 0},
      "encoding": {
        "x": {
          "field": "m", "type": "quantitative",
          "axis": {
            "orient": "top", "title": null, "labels": false,
            "values": [0.48, 0.5, 0.52, 0.54, 0.56, 0.58, 0.6, 0.62, 0.64, 0.66, 0.68, 0.7, 0.72, 0.74, 0.76, 0.78, 0.8, 0.82, 0.84, 0.86, 0.88, 0.9, 0.92, 0.94, 0.96, 0.98, 1.0, 1.02, 1.04, 1.06],
            "tickSize": {"condition": {"test": "abs(datum.value*10 - round(datum.value*10)) < 0.001", "value": -17}, "value": -8.5}
          }
        },
        "y": {
          "field": "h", "type": "quantitative",
          "axis": {
            "orient": "right", "title": null, "labels": false,
            "values": [-10, -9.5, -9, -8.5, -8, -7.5, -7, -6.5, -6, -5.5, -5, -4.5, -4, -3.5],
            "tickSize": {"condition": {"test": "abs(datum.value - round(datum.value)) < 0.001", "value": -13}, "value": -6.5}
          }
        },
        "color": {
          "field": "s", "type": "nominal",
          "scale": {"domain": ["R", "T"], "range": ["#000000", "#E51E10"]},
          "legend": {
            "orient": "none",
            "legendX": 911,
            "legendY": 770,
            "title": null,
            "padding": 0,
            "labelFont": "Liberation Mono",
            "labelFontSize": 36,
            "labelColor": "#000000",
            "labelAlign": "right",
            "labelOffset": -98,
            "labelLimit": 800,
            "symbolSize": 236,
            "symbolStrokeWidth": 0,
            "rowPadding": 14,
            "labelExpr": "datum.value == 'R' ? 'Romero et al. (2019)' : 'This work'"
          }
        },
        "shape": {
          "field": "s", "type": "nominal",
          "scale": {"domain": ["R", "T"], "range": ["M0,-1L0.745,0L0,1L-0.745,0Z", "M0,-1A0.73,1,0,1,1,0,1A0.73,1,0,1,1,0,-1Z"]}
        }
      }
    }
  ],
  "resolve": {"axis": {"x": "independent", "y": "independent"}}
}
